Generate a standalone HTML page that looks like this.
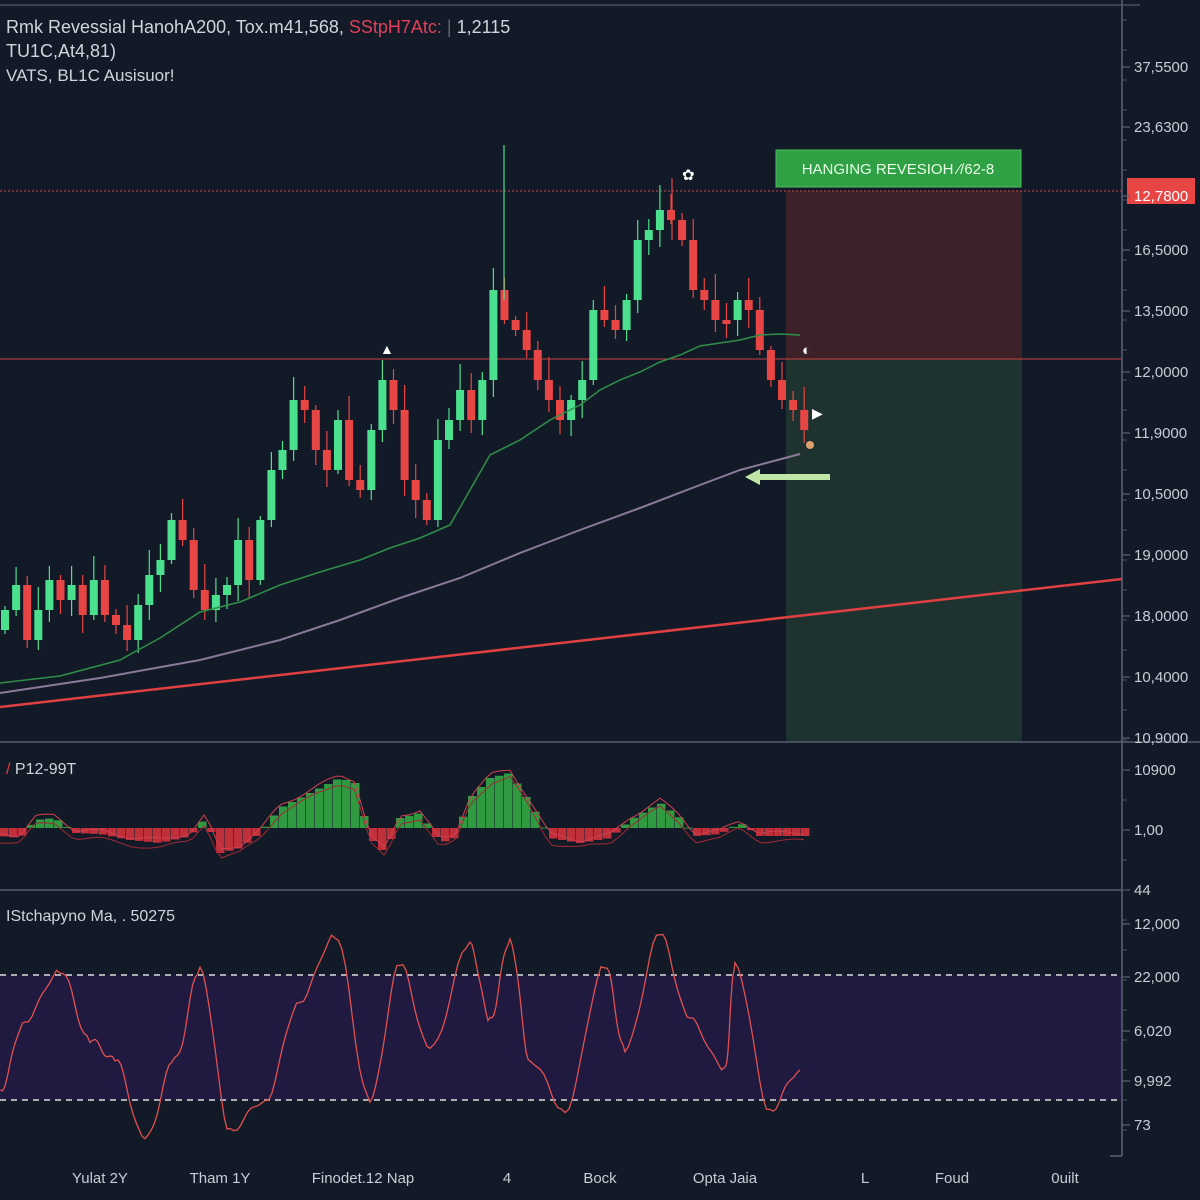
<!DOCTYPE html>
<html><head><meta charset="utf-8"><style>
body{margin:0;background:#131a27;width:1200px;height:1200px;overflow:hidden;font-family:"Liberation Sans",sans-serif}
svg{display:block}
text{font-family:"Liberation Sans",sans-serif}
</style></head><body>
<svg id="s" width="1200" height="1200" xmlns="http://www.w3.org/2000/svg">
<rect width="1200" height="1200" fill="#131a27"/>
<line x1="0" y1="5" x2="1140" y2="5" stroke="#3a4254" stroke-width="2"/>
<rect x="786" y="191" width="236" height="168" fill="#3e2229" opacity="0.95"/>
<rect x="786" y="359" width="236" height="383" fill="#1e3330"/>
<rect x="0" y="975" width="1122" height="125" fill="#211a40"/>
<line x1="0" y1="191" x2="1122" y2="191" stroke="#d04848" stroke-width="1" stroke-dasharray="2,2"/>
<line x1="0" y1="359" x2="1122" y2="359" stroke="#c84040" stroke-width="1"/>
<line x1="0" y1="742" x2="1200" y2="742" stroke="#555d70" stroke-width="1.5"/>
<line x1="0" y1="890" x2="1122" y2="890" stroke="#555d70" stroke-width="1.5"/>
<line x1="0" y1="975" x2="1122" y2="975" stroke="#ddd" stroke-width="1.5" stroke-dasharray="6,5"/>
<line x1="0" y1="1100" x2="1122" y2="1100" stroke="#ddd" stroke-width="1.5" stroke-dasharray="6,5"/>
<line x1="1122" y1="0" x2="1122" y2="1156" stroke="#5a6275" stroke-width="1.5"/>
<line x1="1110" y1="1156" x2="1122" y2="1156" stroke="#5a6275" stroke-width="1.5"/>
<line x1="0" y1="707" x2="1122" y2="579" stroke="#e04040" stroke-width="2.5"/>
<g id="c"></g>
<polyline points="0,683 60,676 120,660 160,638 200,612 240,602 280,585 320,572 360,560 390,548 420,538 450,525 470,490 490,455 520,440 550,420 580,405 600,390 620,380 640,372 660,362 680,355 700,346 720,343 740,340 760,335 780,334 800,335" fill="none" stroke="#2f8f4a" stroke-width="1.5"/>
<polyline points="0,693 100,678 200,660 280,640 340,620 400,598 460,578 520,553 580,530 640,508 700,485 740,470 770,462 800,454" fill="none" stroke="#8a7a9a" stroke-width="2"/>
<polygon points="745,477 760,469 760,474 830,474 830,480 760,480 760,485" fill="#bfe6a6"/>
<rect x="776" y="150" width="245" height="37" fill="#2fa043" stroke="#4fc060"/>
<text x="898" y="174" fill="#e8ffe8" font-size="15" text-anchor="middle">HANGING REVESIOH ⁄/62-8</text>
<text x="682" y="180" fill="#fff" font-size="15">✿</text>
<text x="380" y="354" fill="#fff" font-size="14">▲</text>
<text x="802" y="355" fill="#fff" font-size="15">◐</text>
<text x="812" y="418" fill="#fff" font-size="14">▶</text>
<circle cx="810" cy="445" r="4" fill="#e0a070"/>
<rect x="1127" y="178" width="68" height="26" fill="#e84545"/>
<g id="lab" fill="#c8ccd6" font-size="15"></g>
<text x="6" y="33" fill="#d0d4dc" font-size="18">Rmk Revessial HanohA200, Tox.m41,568, <tspan fill="#e0405a">SStpH7Atc:</tspan> <tspan fill="#666">|</tspan> 1,2115</text>
<text x="6" y="57" fill="#d0d4dc" font-size="18">TU1C,At4,81)</text>
<text x="6" y="81" fill="#d0d4dc" font-size="17">VATS, BL1C Ausisuor!</text>
<text x="6" y="774" fill="#d0d4dc" font-size="16"><tspan fill="#e04040">/</tspan> P12-99T</text>
<text x="6" y="921" fill="#d0d4dc" font-size="16">IStchapyno Ma, . 50275</text>
<g fill="#c8ccd6" font-size="15" text-anchor="middle">
<text x="100" y="1183">Yulat 2Y</text><text x="220" y="1183">Tham 1Y</text><text x="363" y="1183">Finodet.12 Nap</text><text x="507" y="1183">4</text><text x="600" y="1183">Bock</text><text x="725" y="1183">Opta   Jaia</text><text x="865" y="1183">L</text><text x="952" y="1183">Foud</text><text x="1065" y="1183">0uilt</text>
</g>
</svg>
<script>
(function(){
var NS="http://www.w3.org/2000/svg",g=document.getElementById('c');
function el(t,a,p){var e=document.createElementNS(NS,t);for(var k in a)e.setAttribute(k,a[k]);(p||g).appendChild(e);return e;}
var ys=[610,585,640,610,580,600,585,615,580,615,625,640,605,575,560,520,540,590,610,595,585,540,580,520,470,450,400,410,450,470,420,480,490,430,380,410,480,500,520,440,420,390,420,380,290,320,330,350,380,400,420,400,380,310,320,330,300,240,230,210,220,240,290,300,320,320,300,310,350,380,400,410,430];
var n=ys.length,step=11.1;
var prev=ys[0]+20;
for(var i=0;i<n;i++){var x=i*step+1,c=ys[i],o=prev;prev=c;
 var up=c<o,col=up?'#4be08e':'#e84545';
 var tp=Math.min(o,c),bt=Math.max(o,c);if(bt-tp<4)bt=tp+4;
 var w=(i*37%23)+4;
 el('line',{x1:x+4,y1:tp-w,x2:x+4,y2:bt+(i*17%15)+4,stroke:col,'stroke-width':1.2});
 el('rect',{x:x,y:tp,width:8,height:bt-tp,fill:col});}
el('line',{x1:504,y1:145,x2:504,y2:300,stroke:'#4be08e','stroke-width':1.2});
el('line',{x1:672,y1:178,x2:672,y2:240,stroke:'#e84545','stroke-width':1.2});
var mh=828;
// key points (x, value) for MACD histogram
var kp=[[0,-8],[20,-10],[35,8],[55,10],[75,-5],[100,-6],[130,-12],[160,-15],[190,-8],[205,10],[220,-25],[240,-20],[260,-5],[280,20],[310,35],[340,50],[355,45],[370,-10],[385,-25],[400,10],[420,15],[440,-15],[455,-10],[470,30],[490,50],[510,55],[530,25],[550,-10],[580,-15],[610,-10],[630,8],[660,25],[680,10],[695,-8],[720,-6],[740,5],[760,-8],[800,-8]];
function mv(x){for(var k=0;k<kp.length-1;k++){if(x>=kp[k][0]&&x<=kp[k+1][0]){var u=(x-kp[k][0])/(kp[k+1][0]-kp[k][0]);return kp[k][1]+(kp[k+1][1]-kp[k][1])*u;}}return -8;}
for(var x=0;x<804;x+=9){var v=mv(x+4);
 el('rect',{x:x,y:v>0?mh-v:mh,width:8.5,height:Math.max(1,Math.abs(v)),fill:v>0?'#2f9a40':'#c0303a'});}
var p1='',p2='';for(var x=0;x<=804;x+=6){var v=mv(x);p1+=x+','+(mh-v-3+Math.sin(x/9)*2)+' ';p2+=x+','+(mh-v+5+Math.cos(x/11)*2)+' ';}
el('polyline',{points:p1,fill:'none',stroke:'#d04050','stroke-width':1});
el('polyline',{points:p2,fill:'none',stroke:'#a02a35','stroke-width':1});
var pk=[[0,1090],[25,1020],[60,970],[90,1040],[115,1060],[145,1140],[175,1060],[200,970],[230,1130],[265,1100],[300,1000],[335,935],[370,1100],[400,965],[430,1050],[470,945],[490,1020],[510,940],[530,1060],[565,1110],[605,965],[625,1050],[660,935],[690,1020],[725,1070],[735,965],[770,1110],[800,1070]];
var s='';for(var i=0;i<pk.length-1;i++){var a=pk[i],b=pk[i+1];for(var t=0;t<10;t++){var u=t/10,e=(1-Math.cos(u*Math.PI))/2;s+=(a[0]+(b[0]-a[0])*u)+','+(a[1]+(b[1]-a[1])*e+Math.sin(i*7+t)*3)+' ';}}
s+=pk[pk.length-1].join(',');
el('polyline',{points:s,fill:'none',stroke:'#e05050','stroke-width':1.3});
var L=document.getElementById('lab');
var lb=[[67,'37,5500'],[127,'23,6300'],[196,'12,7800'],[250,'16,5000'],[311,'13,5000'],[372,'12,0000'],[433,'11,9000'],[494,'10,5000'],[555,'19,0000'],[616,'18,0000'],[677,'10,4000'],[738,'10,9000'],[770,'10900'],[830,'1,00'],[890,'44'],[924,'12,000'],[977,'22,000'],[1031,'6,020'],[1081,'9,992'],[1125,'73']];
lb.forEach(function(q){var t=el('text',{x:1134,y:q[0]+5},L);t.textContent=q[1];if(q[1]=='12,7800')t.setAttribute('fill','#fff');
 el('line',{x1:1122,y1:q[0],x2:1130,y2:q[0],stroke:'#5a6275','stroke-width':1.2},L);});
for(var y=20;y<1150;y+=30)el('line',{x1:1122,y1:y,x2:1127,y2:y,stroke:'#4a5265','stroke-width':1},L);
})();
</script>
</body></html>
